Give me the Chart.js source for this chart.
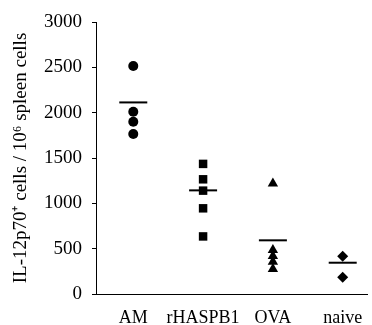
<!DOCTYPE html>
<html>
<head>
<meta charset="utf-8">
<script src="https://cdn.jsdelivr.net/npm/chart.js@4"></script>
<style>
  html, body { margin: 0; padding: 0; background: #fff; }
  #wrap { width: 372px; height: 325px; }
</style>
</head>
<body>
<div id="wrap"><canvas id="il12Chart" width="372" height="325"></canvas></div>
<script>
const groups = ['AM', 'rHASPB1', 'OVA', 'naive'];
const amValues = [2515, 2010, 1900, 1765];
const rhaspb1Values = [1435, 1265, 1140, 945, 635];
const ovaValues = [1220, 485, 420, 355, 275];
const naiveValues = [415, 185];
const groupMeans = [2113, 1143, 592, 345];
const yTicks = [0, 500, 1000, 1500, 2000, 2500, 3000];

const FONT = 'Liberation Serif';

// each group sits at x = 1..4
function toPoints(values, groupIndex) {
  return values.map(v => ({ x: groupIndex + 1, y: v }));
}

new Chart(document.getElementById('il12Chart'), {
  type: 'scatter',
  data: {
    datasets: [
      {
        label: 'AM',
        data: toPoints(amValues, 0),
        pointStyle: 'circle', pointRadius: 5,
        backgroundColor: '#000', borderColor: '#000', borderWidth: 0
      },
      {
        label: 'rHASPB1',
        data: toPoints(rhaspb1Values, 1),
        pointStyle: 'rect', pointRadius: 6,
        backgroundColor: '#000', borderColor: '#000', borderWidth: 0
      },
      {
        label: 'OVA',
        data: toPoints(ovaValues, 2),
        pointStyle: 'triangle', pointRadius: 6,
        backgroundColor: '#000', borderColor: '#000', borderWidth: 0
      },
      {
        label: 'naive',
        data: toPoints(naiveValues, 3),
        pointStyle: 'rectRot', pointRadius: 5.5,
        backgroundColor: '#000', borderColor: '#000', borderWidth: 0
      },
      {
        // group mean bars
        label: 'mean',
        data: groupMeans.map((m, i) => ({ x: i + 1, y: m })),
        pointStyle: 'line', pointRadius: 14,
        borderColor: '#000', borderWidth: 2
      }
    ]
  },
  options: {
    responsive: false,
    animation: false,
    layout: { autoPadding: false, padding: { left: 8, right: 5, top: 22, bottom: 0 } },
    plugins: {
      legend: { display: false },
      tooltip: { enabled: false }
    },
    scales: {
      x: {
        type: 'linear',
        min: 0.466,
        max: 4.348,
        afterBuildTicks: axis => {
          axis.ticks = groups.map((g, i) => ({ value: i + 1 }));
        },
        afterFit: axis => {
          axis.height = 31;
          axis.paddingLeft = 0;
          axis.paddingRight = 0;
        },
        ticks: {
          callback: v => groups[v - 1],
          color: '#000',
          font: { family: FONT, size: 18 },
          padding: 13,
          maxRotation: 0
        },
        grid: { display: true, drawOnChartArea: false, drawTicks: false, tickLength: 0 },
        border: { color: '#000', width: 1 }
      },
      y: {
        min: 0,
        max: 3000,
        afterBuildTicks: axis => {
          axis.ticks = yTicks.map(v => ({ value: v }));
        },
        afterFit: axis => {
          axis.width = 88;
          axis.paddingTop = 0;
          axis.paddingBottom = 0;
        },
        ticks: {
          callback: v => String(v),
          color: '#000',
          font: { family: FONT, size: 19 },
          padding: 10
        },
        grid: { display: true, drawOnChartArea: false, tickLength: 4, color: '#000' },
        border: { color: '#000', width: 1 },
        title: {
          display: true,
          text: 'IL-12p70\u207A cells / 10\u2076 spleen cells',
          color: '#000',
          font: { family: FONT, size: 19 },
          padding: { top: 2, bottom: 10 }
        }
      }
    }
  }
});
</script>
</body>
</html>
